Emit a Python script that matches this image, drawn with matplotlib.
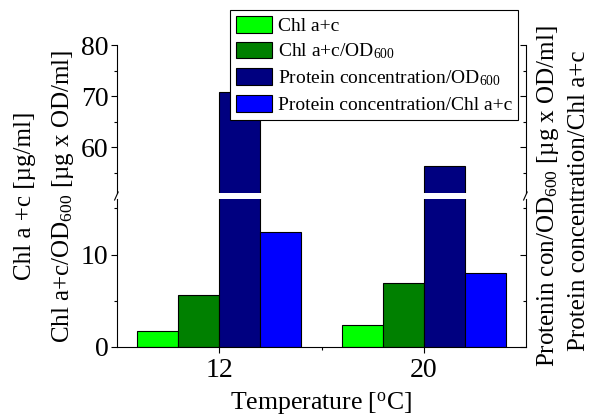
import numpy as np
import matplotlib.pyplot as plt
from matplotlib.ticker import MultipleLocator

plt.rcParams['font.family'] = 'Liberation Serif'
plt.rcParams['mathtext.fontset'] = 'custom'
plt.rcParams['mathtext.rm'] = 'Liberation Serif'
plt.rcParams['mathtext.it'] = 'Liberation Serif:italic'
plt.rcParams['mathtext.default'] = 'regular'

temps = [12, 20]
series = ['Chl a+c', 'Chl a+c/OD$_{600}$',
          'Protein concentration/OD$_{600}$', 'Protein concentration/Chl a+c']
chl = [1.7, 2.35]
chl_od = [5.65, 6.9]
prot_od = [70.7, 56.3]
prot_chl = [12.4, 8.05]
colors = ['#00ff00', '#008000', '#000080', '#0000ff']

values = [chl, chl_od, prot_od, prot_chl]
width = 1.6
offsets = [-2.4, -0.8, 0.8, 2.4]

fig = plt.figure(figsize=(5.98, 4.17), dpi=100)
left, right = 117 / 598, 526 / 598
ax_lo = fig.add_axes([left, 1 - 347 / 417, right - left, (347 - 199) / 417])
ax_hi = fig.add_axes([left, 1 - 193 / 417, right - left, (193 - 45) / 417], sharex=ax_lo)

handles = []
for ax in (ax_lo, ax_hi):
    for vals, off, c, lab in zip(values, offsets, colors, series):
        b = ax.bar(np.array(temps) + off, vals, width=width, color=c,
                   edgecolor='black', linewidth=0.8, label=lab)
        if ax is ax_lo:
            handles.append(b)

ax_lo.set_xlim(8, 24)
ax_lo.set_ylim(0, 16)
ax_hi.set_ylim(51, 80)
ax_lo.set_xticks([12, 20])
ax_lo.set_xticks([16], minor=True)

ax_lo.spines['top'].set_visible(False)
ax_hi.spines['top'].set_visible(False)
ax_hi.spines['bottom'].set_visible(False)
ax_hi.tick_params(axis='x', which='both', bottom=False, labelbottom=False)

for ax in (ax_lo, ax_hi):
    ax.yaxis.set_major_locator(MultipleLocator(10))
    ax.yaxis.set_minor_locator(MultipleLocator(5))
    ax.tick_params(axis='y', which='major', direction='out', length=4, width=0.8, labelsize=20, pad=2)
    ax.tick_params(axis='y', which='minor', direction='out', length=2.5, width=0.8)
    for s in ax.spines.values():
        s.set_linewidth(0.8)
    tw = ax.twinx()
    tw.set_ylim(ax.get_ylim())
    tw.yaxis.set_major_locator(MultipleLocator(10))
    tw.yaxis.set_minor_locator(MultipleLocator(5))
    tw.tick_params(axis='y', which='major', direction='in', length=4, width=0.8, labelright=False)
    tw.tick_params(axis='y', which='minor', direction='in', length=2.5, width=0.8)
    for s in tw.spines.values():
        s.set_visible(False)
ax_lo.tick_params(axis='x', which='major', direction='out', length=4, width=0.8, labelsize=20, pad=4)
ax_lo.tick_params(axis='x', which='minor', direction='out', length=2.5, width=0.8)

# break marks
for x in (left, right):
    fig.lines.append(plt.Line2D([x - 0.004, x + 0.002], [1 - 200 / 417, 1 - 192 / 417],
                                transform=fig.transFigure, color='black', lw=0.8))

ax_lo.set_xlabel('Temperature [$^{o}$C]', fontsize=18.5, labelpad=5)

ymid = 1 - 196 / 417
fig.text(25 / 598, ymid, 'Chl a +c [\u00b5g/ml]', rotation=90,
         ha='center', va='center', fontsize=18)
fig.text(63 / 598, ymid, 'Chl a+c/OD$_{600}$ [\u00b5g x OD/ml]', rotation=90,
         ha='center', va='center', fontsize=18)
fig.text(548 / 598, ymid, 'Protenin con/OD$_{600}$ [\u00b5g x OD/ml]', rotation=90,
         ha='center', va='center', fontsize=18)
fig.text(579 / 598, 1 - 201 / 417, 'Protein concentration/Chl a+c', rotation=90,
         ha='center', va='center', fontsize=18)

leg = fig.legend(handles=handles, labels=series, loc='upper right',
                 bbox_to_anchor=(518 / 598, 1 - 10 / 417), fontsize=14,
                 frameon=True, fancybox=False, edgecolor='black', framealpha=1,
                 handlelength=1.85, handleheight=0.95, handletextpad=0.3,
                 labelspacing=0.35, borderpad=0.3, borderaxespad=0)
leg.get_frame().set_linewidth(0.8)
leg.set_zorder(10)

fig.savefig('out.png', dpi=100)
